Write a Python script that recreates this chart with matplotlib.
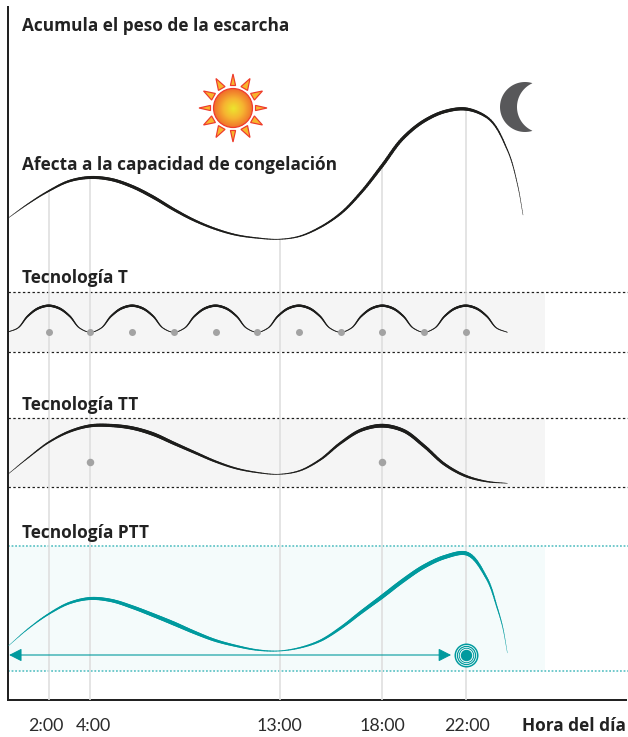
import matplotlib
matplotlib.use('Agg')
import matplotlib.pyplot as plt
import numpy as np
from matplotlib.collections import LineCollection
from matplotlib.patches import Circle, Polygon
from matplotlib.transforms import ScaledTranslation

W, H = 628, 737
px = 0.72  # one pixel in points at dpi 100

plt.rcParams['font.family'] = ['Lato', 'DejaVu Sans']
title_font = ['Open Sans', 'DejaVu Sans']

# values: hours on x, height above the axis on y
hours = [0.06, 1, 2, 3, 4, 5, 6, 7, 8, 9, 10, 11, 12, 13, 14, 15, 16, 17, 18, 19, 20, 21, 22]

peso_h = hours + [23, 24, 24.5, 24.75]
peso = [482, 496, 509, 519, 522.5, 520.5, 513.5, 503, 490.5, 479.5, 471, 465, 462, 460.7,
        463.5, 472.5, 486.5, 508, 534.5, 562, 579, 588.5, 591, 583, 550, 514, 485]

# one hump of tecnologia T, half hour steps from trough to just before the next trough
t_hump = [367.7, 371.7, 384, 391.7, 394.3, 391.7, 384, 371.7]
t_h = [i * 0.5 for i in range(49)]
t_vals = t_hump * 6 + [367.7]
t_dots = [2, 4, 6, 8, 10, 12, 14, 16, 18, 20, 22]

tt_h = hours + [23, 24]
tt = [226, 242, 257.7, 268.5, 274.2, 274.5, 272, 266, 256.7, 247.5, 238.5, 231.5, 227.5, 225.7,
      229, 240, 257, 270, 274.3, 269.5, 254, 235.5, 224, 218.5, 216.7]
tt_dots = [4, 18]

ptt_h = hours + [23, 23.5, 23.75, 24]
ptt = [54, 71, 86, 97, 101.5, 99.5, 93, 85, 76.5, 67.5, 59.5, 54, 50, 49,
       52, 59, 72, 88, 103.5, 119.5, 133.5, 143, 146.7, 122, 93, 75, 47]

tick_pos = [2, 4, 13.07, 18, 22]
tick_labels = ['2:00', '4:00', '13:00', '18:00', '22:00']
tick_nudge = [-3, 3, 0, 0, 1]
grid_top = [509, 522.5, 460.7, 534.5, 591]

dot_level_t = 368
dot_level_tt = 238
arrow_level = 45
arrow_from = 0.1
arrow_to = 21.3
target_h = 22

band_end = 25.8
band_t = (348, 408)
band_tt = (213, 282)
band_ptt = (29, 154)

black = '#1d1d1b'
teal = '#009a9e'
teal_light = '#66c6c8'
grey_dot = '#a3a3a3'
grid_col = '#dedede'


def smooth_stroke(x, y, n=14):
    # curve through the read points, same idea as a bezier in the original drawing
    x = np.array(x, dtype=float)
    y = np.array(y, dtype=float)
    t = np.concatenate([[0], np.cumsum(np.hypot(np.diff(x) * 20.85, np.diff(y)))])
    mx = np.gradient(x, t)
    my = np.gradient(y, t)
    xs, ys = [], []
    for i in range(len(x) - 1):
        d = t[i + 1] - t[i]
        s = np.linspace(0, 1, n, endpoint=False)
        h00 = 2 * s**3 - 3 * s**2 + 1
        h10 = s**3 - 2 * s**2 + s
        h01 = -2 * s**3 + 3 * s**2
        h11 = s**3 - s**2
        xs.append(h00 * x[i] + h10 * d * mx[i] + h01 * x[i + 1] + h11 * d * mx[i + 1])
        ys.append(h00 * y[i] + h10 * d * my[i] + h01 * y[i + 1] + h11 * d * my[i + 1])
    xs.append([x[-1]])
    ys.append([y[-1]])
    return np.concatenate(xs), np.concatenate(ys)


def tapered(ax, x, y, tx, tw, color):
    # variable width stroke, the reference curves swell in the middle
    sx, sy = smooth_stroke(x, y)
    pts = np.column_stack([sx, sy]).reshape(-1, 1, 2)
    segs = np.concatenate([pts[:-1], pts[1:]], axis=1)
    w = np.interp((sx[:-1] + sx[1:]) / 2, tx, tw) * px
    lc = LineCollection(segs, linewidths=w, colors=color, capstyle='round', zorder=4)
    ax.add_collection(lc)


fig = plt.figure(figsize=(W / 100, H / 100), dpi=100)
ax = fig.add_axes([8 / W, 1 - 700 / H, (W - 8) / W, 693 / H])
ax.set_xlim((8 - 7) / 20.85, (W - 7) / 20.85)
ax.set_ylim(0, 693)

for s in ['top', 'right']:
    ax.spines[s].set_visible(False)
for s in ['left', 'bottom']:
    ax.spines[s].set_linewidth(2 * px)
    ax.spines[s].set_color('#222222')
ax.spines['bottom'].set_bounds(ax.get_xlim()[0], (626 - 7) / 20.85)

ax.set_yticks([])
ax.set_xticks(tick_pos)
ax.set_xticklabels(tick_labels, fontsize=12.8, color='#2b2b2b')
ax.tick_params(axis='x', length=0, pad=13)
for lab, dx in zip(ax.get_xticklabels(), tick_nudge):
    lab.set_transform(lab.get_transform() + ScaledTranslation(dx / 100, 0, fig.dpi_scale_trans))

x0 = ax.get_xlim()[0]
x1 = ax.get_xlim()[1]

# bands and their dashed limits
for band, fc, lc, ls, lw in [(band_t, '#f5f5f5', black, (0, (2, 2)), 1.2),
                             (band_tt, '#f5f5f5', black, (0, (2, 2)), 1.2),
                             (band_ptt, '#f4fbfb', teal_light, (0, (1, 1)), 1.8)]:
    ax.fill_between([x0, band_end], band[0], band[1], color=fc, lw=0, zorder=1)
    ax.hlines(band, x0, x1, colors=lc, linestyles=[ls], linewidth=lw * px, zorder=2)

ax.vlines(tick_pos, 0, grid_top, colors=grid_col, linewidth=1.6 * px, zorder=3)

tapered(ax, peso_h, peso, [0, 4, 7, 13, 18, 22, 24.75], [0.4, 3, 3.2, 0.8, 3.2, 3.2, 0.4], black)
tapered(ax, tt_h, tt, [0, 4, 7, 13, 18, 22, 24], [0.4, 3, 3.6, 0.7, 3.8, 2.4, 0.5], black)
tapered(ax, ptt_h, ptt, [0, 4, 8, 13, 18, 22, 24], [0.3, 3, 4, 0.8, 4, 4, 0.3], teal)

# T curve: thin in the troughs, fuller on the humps
t_w = 0.7 + 1.7 * (np.array(t_vals) - min(t_hump)) / (max(t_hump) - min(t_hump))
tapered(ax, t_h, t_vals, t_h, t_w, black)

ax.scatter(t_dots, [dot_level_t] * len(t_dots), s=(7 * px) ** 2, color=grey_dot, lw=0, zorder=5)
ax.scatter(tt_dots, [dot_level_tt] * len(tt_dots), s=(7.5 * px) ** 2, color=grey_dot, lw=0, zorder=5)

ax.annotate('', xy=(arrow_from, arrow_level), xytext=(arrow_to, arrow_level),
            arrowprops=dict(arrowstyle='<|-|>,head_length=0.55,head_width=0.28', color=teal,
                            lw=1.1 * px, shrinkA=0, shrinkB=0, mutation_scale=14), zorder=5)

# target: solid dot with thin rings around
ax.scatter([target_h], [arrow_level], s=(24 * px) ** 2, color=teal, lw=0, zorder=5)
for d, c in [(21, 'white'), (19.5, teal), (17, 'white'), (15.5, teal), (13.5, 'white'), (11.5, teal)]:
    ax.scatter([target_h], [arrow_level], s=(d * px) ** 2, color=c, lw=0, zorder=5)

# overlay in pixels for the icons and titles
ov = fig.add_axes([0, 0, 1, 1])
ov.set_xlim(0, W)
ov.set_ylim(H, 0)
ov.axis('off')
ov.patch.set_alpha(0)

titles = [('Acumula el peso de la escarcha', 26), ('Afecta a la capacidad de congelación', 165),
          ('Tecnología T', 278), ('Tecnología TT', 405), ('Tecnología PTT', 533)]
for txt, y in titles:
    ov.text(21.5, y, txt, fontsize=12.4, fontweight='bold', family=title_font, color='#222222', va='center', ha='left')
ov.text(626, 726, 'Hora del día', fontsize=12.4, fontweight='bold', family=title_font, color='#222222', va='center', ha='right')

# sun
cx, cy = 233, 108
for a in np.arange(0, 360, 30):
    t = np.radians(a)
    u = np.array([np.cos(t), np.sin(t)])
    n = np.array([-u[1], u[0]])
    c = np.array([cx, cy])
    hw = 2.6 if a % 90 == 0 else 3.8
    ov.add_patch(Polygon([c + u * 34, c + u * 22.5 + n * hw, c + u * 22.5 - n * hw],
                         closed=True, fc='#f7b52c', ec='#ee3a2c', lw=1.2 * px))

g = np.linspace(-1, 1, 120)
gx, gy = np.meshgrid(g, g)
r = np.clip(np.hypot(gx, gy), 0, 1)
cm = matplotlib.colors.LinearSegmentedColormap.from_list('sun', ['#ece52e', '#f6b531', '#f0702a'])
im = ov.imshow(r, cmap=cm, extent=(cx - 19.5, cx + 19.5, cy + 19.5, cy - 19.5), zorder=3, vmin=0, vmax=1)
disc = Circle((cx, cy), 19.5, transform=ov.transData)
im.set_clip_path(disc)
ov.add_patch(Circle((cx, cy), 19.5, fc='none', ec='#ee3a2c', lw=1.2 * px, zorder=4))
ov.set_xlim(0, W)
ov.set_ylim(H, 0)
ov.set_aspect('auto')

# moon
a_out = np.radians(np.linspace(-71, -289, 60))
a_in = np.radians(np.linspace(-247, -113, 40))
mx = np.concatenate([525 + 25 * np.cos(a_out), 543 + 26 * np.cos(a_in)])
my = np.concatenate([107 + 25 * np.sin(a_out), 107 + 26 * np.sin(a_in)])
ov.add_patch(Polygon(np.column_stack([mx, my]), closed=True, fc='#58585a', ec='none'))

fig.savefig('out.png', dpi=100)
